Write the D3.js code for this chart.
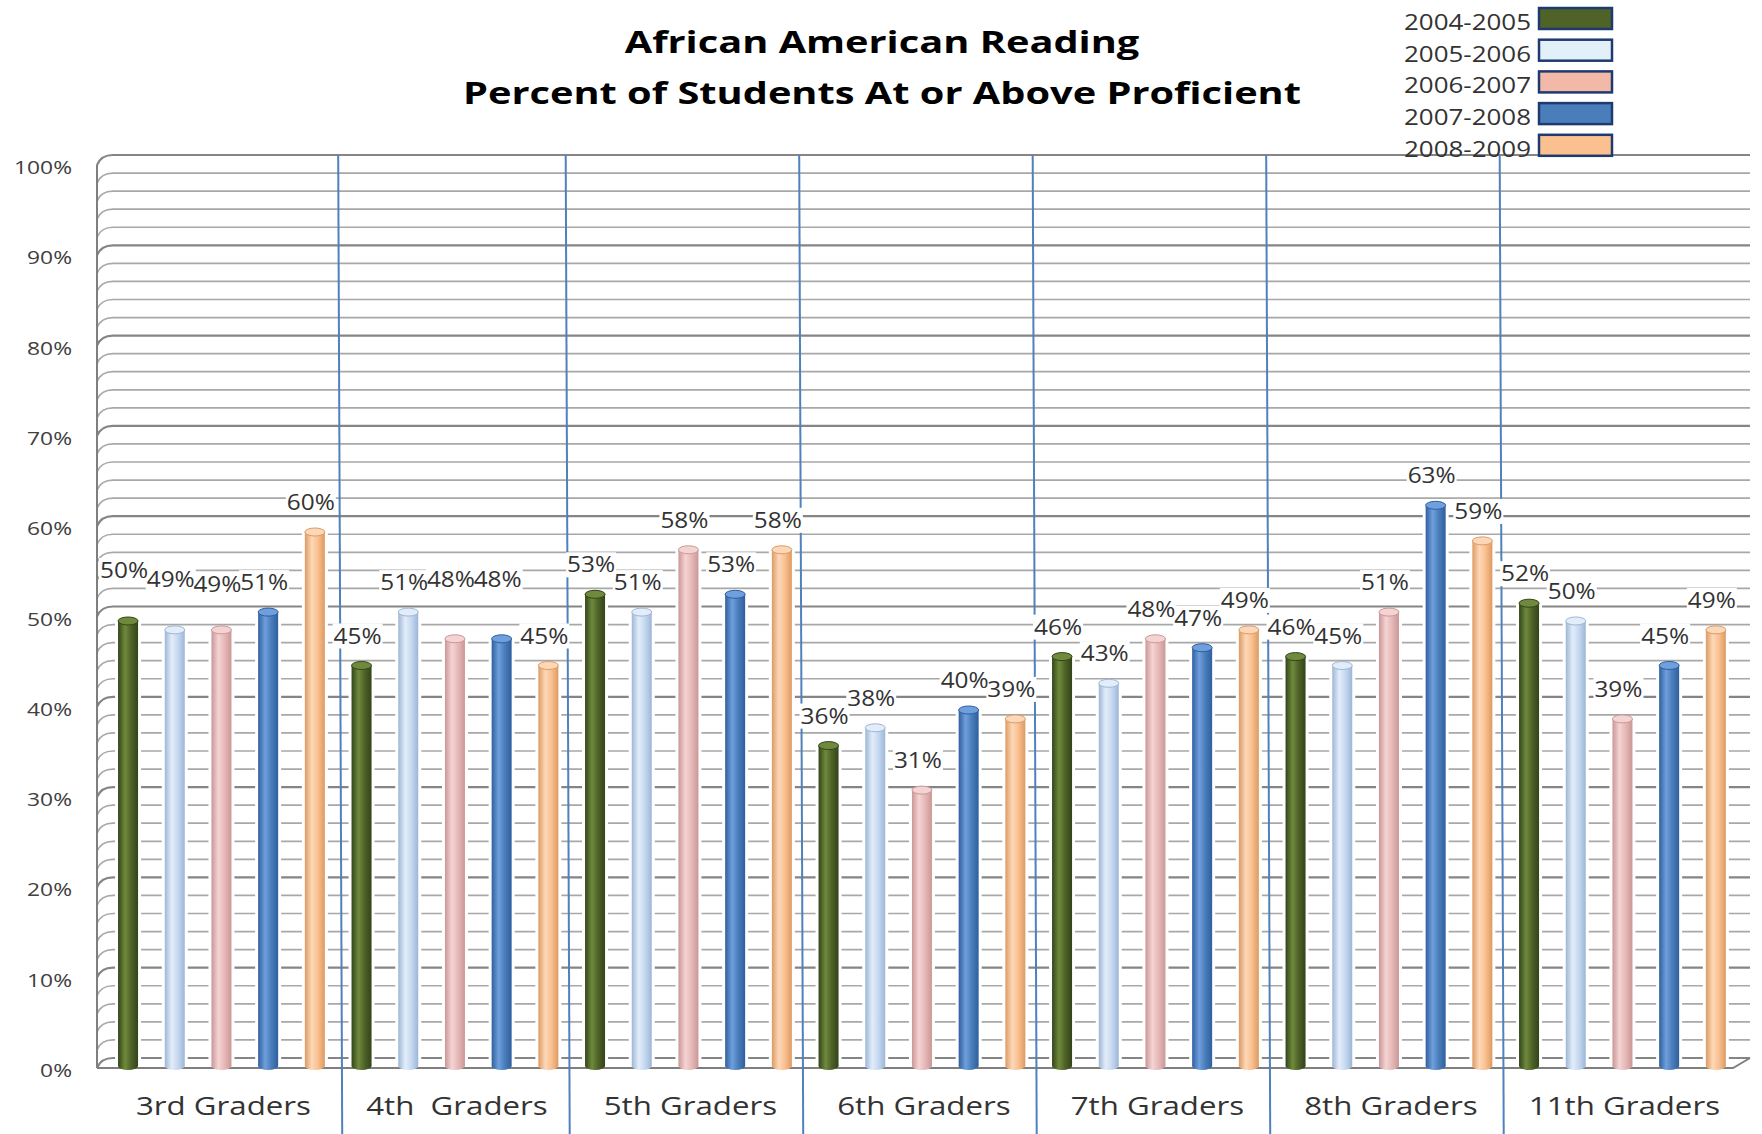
<!DOCTYPE html>
<html><head><meta charset="utf-8">
<script src="https://cdn.jsdelivr.net/npm/d3@7"></script>
<style>body{margin:0;background:#fff} text{white-space:pre}</style>
</head><body><svg id="c" width="1762" height="1134"></svg>
<script>
// ---------- DATA ----------
const grades = ["3rd Graders","4th  Graders","5th Graders","6th Graders","7th Graders","8th Graders","11th Graders"];
const years = ["2004-2005","2005-2006","2006-2007","2007-2008","2008-2009"];
const v0405 = [50,45,53,36,46,46,52];
const v0506 = [49,51,51,38,43,45,50];
const v0607 = [49,48,58,31,48,51,39];
const v0708 = [51,48,53,40,47,63,45];
const v0809 = [60,45,58,39,49,59,49];
const yTickValues = [0,10,20,30,40,50,60,70,80,90,100];
const yTickLabels = ["0%","10%","20%","30%","40%","50%","60%","70%","80%","90%","100%"];
const titleLines = ["African American Reading","Percent of Students At or Above Proficient"];
// ---------- LAYOUT / STYLE ----------
const seriesVals = [v0405,v0506,v0607,v0708,v0809];
const colors = [
  {dark:"#33441a", mid:"#4f6228", light:"#6f8a3c", legend:"#4f6228"},
  {dark:"#9db6d6", mid:"#c6d9f1", light:"#e3edf9", legend:"#e2f1f8"},
  {dark:"#c99796", mid:"#e6b9b8", light:"#f4d4d3", legend:"#f2b9a8"},
  {dark:"#2f5f9e", mid:"#4a7ebb", light:"#6fa0dd", legend:"#4a7ebb"},
  {dark:"#dd9a62", mid:"#fac090", light:"#fdd8b8", legend:"#fac090"}
];
// extra lift of some value labels (layout only)
const labelLift = [[21,21,16,0,0],[0,0,30,30,0],[0,0,0,0,0],[0,0,0,0,0],[0,0,0,0,0],[0,0,0,0,0],[0,0,0,0,0]];

const svg = d3.select("#c");
const FONT = "'Open Sans', 'Liberation Sans', sans-serif";

const x0 = d3.scaleBand().domain(grades).range([104.7, 1739.2]).padding(0);
const x1 = d3.scaleBand().domain(years).range([0, x0.bandwidth()]).padding(0);
const yFront = d3.scaleLinear().domain([0,100]).range([1068,165]);
const yBack = d3.scaleLinear().domain([0,100]).range([1058,155]);
const yBar = d3.scaleLinear().domain([0,100]).range([1066,176]);
const xFront = 97, xBack = 113, xRight = 1750, xFloorFront = 1733;

function stretchTo(sel, refNode, target){
  const k = target / refNode.getComputedTextLength();
  sel.each(function(){
    const w = this.getComputedTextLength();
    d3.select(this).attr("textLength", w*k).attr("lengthAdjust","spacingAndGlyphs");
  });
}

// defs gradients
const defs = svg.append("defs");
colors.forEach((c,i)=>{
  const g = defs.append("linearGradient").attr("id","cyl"+i).attr("x1","0").attr("x2","1").attr("y1","0").attr("y2","0");
  g.append("stop").attr("offset","0%").attr("stop-color",c.dark);
  g.append("stop").attr("offset","35%").attr("stop-color",c.light);
  g.append("stop").attr("offset","65%").attr("stop-color",c.mid);
  g.append("stop").attr("offset","100%").attr("stop-color",c.dark);
});

// ---------- gridlines (back wall + left wall) ----------
const gridVals = d3.range(0, 101, 2);
svg.append("g").selectAll("path").data(gridVals).join("path")
  .attr("d", v => `M${xFront},${yFront(v)} Q${xFront+4},${yBack(v)} ${xBack},${yBack(v)} L${xRight},${yBack(v)}`)
  .attr("fill","none")
  .attr("stroke", v => v % 10 === 0 ? "#858585" : "#a8a8a8")
  .attr("stroke-width", v => v % 10 === 0 ? 2.2 : 1.7);

// left wall front edge
svg.append("line").attr("x1",xFront).attr("x2",xFront).attr("y1",yFront(100)).attr("y2",yFront(0))
  .attr("stroke","#7f7f7f").attr("stroke-width",2);
// floor
svg.append("path")
  .attr("d",`M${xFront},${yFront(0)} L${xFloorFront},${yFront(0)} L${xRight},${yBack(0)}`)
  .attr("fill","none").attr("stroke","#7f7f7f").attr("stroke-width",2);

// ---------- bars ----------
const barW = 20, ry = 4;
const barData = [];
grades.forEach((g,gi)=>years.forEach((yr,si)=>{
  barData.push({g, gi, si, yr, v: seriesVals[si][gi], cx: x0(g)+x1(yr)+x1.bandwidth()/2});
}));
const bars = svg.append("g");
bars.selectAll("rect.halo").data(barData).join("rect").attr("class","halo")
  .attr("x", d=>d.cx-barW/2-3).attr("width", barW+6)
  .attr("y", d=>yBar(d.v)).attr("height", d=>yBar(0)-yBar(d.v))
  .attr("fill","#fff");
bars.selectAll("ellipse.bot").data(barData).join("ellipse").attr("class","bot")
  .attr("cx", d=>d.cx).attr("cy", yBar(0)).attr("rx", barW/2).attr("ry", ry)
  .attr("fill", d=>`url(#cyl${d.si})`);
bars.selectAll("rect.body").data(barData).join("rect").attr("class","body")
  .attr("x", d=>d.cx-barW/2).attr("width", barW)
  .attr("y", d=>yBar(d.v)).attr("height", d=>yBar(0)-yBar(d.v))
  .attr("fill", d=>`url(#cyl${d.si})`);
bars.selectAll("ellipse.top").data(barData).join("ellipse").attr("class","top")
  .attr("cx", d=>d.cx).attr("cy", d=>yBar(d.v)).attr("rx", barW/2).attr("ry", ry)
  .attr("fill", d=>colors[d.si].light).attr("stroke", d=>colors[d.si].dark).attr("stroke-width",1);

// ---------- blue separators ----------
const seps = grades.slice(1).map(g=>x0(g));
svg.append("g").selectAll("line").data(seps).join("line")
  .attr("x1", (d,i)=> i===0 ? d : d-6).attr("x2", (d,i)=> (i===0 ? d : d-6)+4)
  .attr("y1", yBack(100)).attr("y2", 1134)
  .attr("stroke","#4f81bd").attr("stroke-width",2);

// ---------- value labels ----------
const lab = svg.append("g");
const labTexts = lab.selectAll("text").data(barData).join("text")
  .attr("x", d=>d.cx-4)
  .attr("y", d=>yBar(d.v)-22-labelLift[d.gi][d.si])
  .attr("text-anchor","middle")
  .attr("font-family",FONT).attr("font-size",21).attr("fill","#333")
  .text(d=>d.v+"%");
const ref60 = labTexts.filter(d=>d.gi===0 && d.si===4).node();
stretchTo(labTexts, ref60, 48);
labTexts.each(function(){
  const b = this.getBBox();
  lab.insert("rect","text").attr("x",b.x-1).attr("y",b.y+2).attr("width",b.width+2).attr("height",b.height-3)
    .attr("fill","#fff");
});

// ---------- y axis labels ----------
const yl = svg.append("g").selectAll("text").data(yTickValues).join("text")
  .attr("x",72).attr("y",v=>yFront(v)+9)
  .attr("text-anchor","end").attr("font-family",FONT).attr("font-size",18).attr("fill","#404040")
  .text((v,i)=>yTickLabels[i]);
stretchTo(yl, yl.nodes()[10], 58);

// ---------- category labels ----------
const cl = svg.append("g").selectAll("text").data(grades).join("text")
  .attr("x", g=>x0(g)+x0.bandwidth()/2+2).attr("y",1115)
  .attr("text-anchor","middle").attr("font-family",FONT).attr("font-size",26).attr("fill","#333")
  .text(g=>g);
stretchTo(cl, cl.nodes()[0], 175);

// ---------- title ----------
const tl = svg.append("g").selectAll("text").data(titleLines).join("text")
  .attr("x",882).attr("y",(d,i)=> i===0 ? 53 : 104)
  .attr("text-anchor","middle").attr("font-family",FONT).attr("font-weight","bold")
  .attr("font-size",31).attr("fill","#000")
  .text(d=>d);
stretchTo(tl, tl.nodes()[1], 838);

// ---------- legend ----------
const lg = svg.append("g");
const lgRows = lg.selectAll("g").data(years).join("g")
  .attr("transform",(d,i)=>`translate(0,${30+i*31.7})`);
lgRows.append("rect").attr("x",1539).attr("y",-22).attr("width",73).attr("height",21)
  .attr("fill",(d,i)=>colors[i].legend).attr("stroke","#1f3a70").attr("stroke-width",2.5);
const lgt = lgRows.append("text").attr("x",1531).attr("y",0).attr("text-anchor","end")
  .attr("font-family",FONT).attr("font-size",21).attr("fill","#333").text(d=>d);
stretchTo(lgt, lgt.nodes()[0], 127);
</script></body></html>
